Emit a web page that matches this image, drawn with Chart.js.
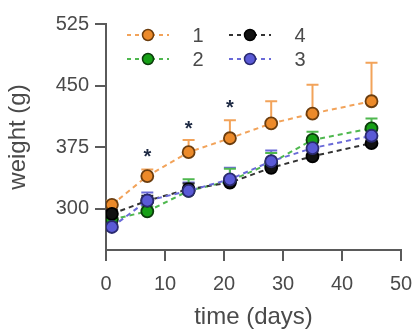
<!DOCTYPE html>
<html>
<head>
<meta charset="utf-8">
<script src="https://cdn.jsdelivr.net/npm/chart.js@4/dist/chart.umd.min.js"></script>
<style>
  html, body { margin: 0; padding: 0; background: #fff; }
</style>
</head>
<body>
<canvas id="chart" width="417" height="332"></canvas>
<script>
// Data
const days = [1, 7, 14, 21, 28, 35, 45];
const group1 = [305, 340, 369, 386, 404, 416, 431];
const group1Err = [5, 8, 15, 22, 27, 35, 47];
const group2 = [287, 297, 322, 334, 356, 384, 398];
const group2Err = [5, 6, 14, 15, 12, 10, 12];
const group4 = [294, 310, 324, 332, 350, 364, 380];
const group4Err = [5, 6, 7, 7, 7, 6, 6];
const group3 = [278, 310, 322, 336, 358, 374, 389];
const group3Err = [5, 10, 10, 14, 13, 12, 10];
const xTicks = [0, 10, 20, 30, 40, 50];
const yTicks = [300, 375, 450, 525];
const starDays = [7, 14, 21];
const starValues = [367, 401, 427];

const FONT = '"Liberation Sans", Arial, sans-serif';
const AXIS = '#5a5a5a';
const TEXT = '#4a4a4a';

function series(label, values, errs, line, fill, edge) {
  return {
    label,
    data: days.map((d, i) => ({ x: d, y: values[i] })),
    errs,
    borderColor: line,
    borderWidth: 2,
    borderDash: [5, 4],
    pointRadius: 6,
    pointBackgroundColor: fill,
    pointBorderColor: edge,
    pointBorderWidth: 1.8,
    fill: false,
    tension: 0
  };
}

const datasets = [
  series('3', group3, group3Err, '#6a6ad8', '#5a5ad6', '#2a2a70'),
  series('4', group4, group4Err, '#333333', '#111111', '#000000'),
  series('2', group2, group2Err, '#4fb84f', '#17a017', '#0c3d0c'),
  series('1', group1, group1Err, '#f2a35a', '#ec8a2a', '#6b3d0e')
];

// error bars (upward only, with caps), drawn behind the markers
const errorBars = {
  id: 'errorBars',
  beforeDatasetsDraw(chart) {
    const { ctx, scales: { x, y } } = chart;
    ctx.save();
    chart.data.datasets.forEach(ds => {
      ctx.strokeStyle = ds.borderColor;
      ctx.lineWidth = 2;
      ds.data.forEach((p, i) => {
        const px = x.getPixelForValue(p.x);
        const py = y.getPixelForValue(p.y);
        const top = y.getPixelForValue(p.y + ds.errs[i]);
        ctx.beginPath();
        ctx.moveTo(px, py);
        ctx.lineTo(px, top);
        ctx.moveTo(px - 6, top);
        ctx.lineTo(px + 6, top);
        ctx.stroke();
      });
    });
    ctx.restore();
  }
};

// significance stars
const stars = {
  id: 'stars',
  afterDatasetsDraw(chart) {
    const { ctx, scales: { x, y } } = chart;
    ctx.save();
    ctx.fillStyle = '#1e2a44';
    ctx.font = 'bold 20px ' + FONT;
    ctx.textAlign = 'center';
    ctx.textBaseline = 'middle';
    starDays.forEach((d, i) => {
      ctx.fillText('*', x.getPixelForValue(d), y.getPixelForValue(starValues[i]) + 4);
    });
    ctx.restore();
  }
};

// 2x2 legend: 1 / 2 in the first column, 4 / 3 in the second
const legendGrid = {
  id: 'legendGrid',
  afterDraw(chart) {
    const { ctx, chartArea } = chart;
    const byLabel = {};
    chart.data.datasets.forEach(ds => { byLabel[ds.label] = ds; });
    const cells = [['1', 0, 0], ['2', 0, 1], ['4', 1, 0], ['3', 1, 1]];
    ctx.save();
    cells.forEach(([lab, col, row]) => {
      const ds = byLabel[lab];
      const cx = chartArea.left + 42 + col * 102;
      const cy = chartArea.top + 11 + row * 24;
      ctx.strokeStyle = ds.borderColor;
      ctx.lineWidth = 2;
      ctx.setLineDash([4, 4]);
      ctx.beginPath();
      ctx.moveTo(cx - 21, cy);
      ctx.lineTo(cx + 21, cy);
      ctx.stroke();
      ctx.setLineDash([]);
      ctx.beginPath();
      ctx.arc(cx, cy, 5.5, 0, Math.PI * 2);
      ctx.fillStyle = ds.pointBackgroundColor;
      ctx.fill();
      ctx.strokeStyle = ds.pointBorderColor;
      ctx.lineWidth = 1.5;
      ctx.stroke();
      ctx.fillStyle = TEXT;
      ctx.font = '20px ' + FONT;
      ctx.textAlign = 'center';
      ctx.textBaseline = 'middle';
      ctx.fillText(lab, cx + 50, cy + 1);
    });
    ctx.restore();
  }
};

new Chart(document.getElementById('chart'), {
  type: 'line',
  data: { datasets },
  plugins: [errorBars, stars, legendGrid],
  options: {
    responsive: false,
    animation: false,
    devicePixelRatio: 1,
    layout: { padding: { left: 0, top: 24, right: 16, bottom: 0 } },
    plugins: { legend: { display: false }, tooltip: { enabled: false } },
    scales: {
      x: {
        type: 'linear',
        min: 0, max: 50,
        afterBuildTicks: s => { s.ticks = xTicks.map(v => ({ value: v })); },
        afterFit: s => { s.height = 82; s.paddingRight = 10; s.paddingLeft = 0; },
        grid: { drawOnChartArea: false, drawTicks: true, tickLength: 11, color: AXIS, lineWidth: 2 },
        border: { display: true, color: AXIS, width: 2 },
        ticks: { color: TEXT, font: { family: FONT, size: 20 }, padding: 11, maxRotation: 0 },
        title: { display: true, text: 'time (days)', color: TEXT, font: { family: FONT, size: 24 }, padding: { top: 0, bottom: 0 } }
      },
      y: {
        min: 250, max: 525,
        afterBuildTicks: s => { s.ticks = yTicks.map(v => ({ value: v })); },
        afterFit: s => { s.width = 106; },
        grid: { drawOnChartArea: false, drawTicks: true, tickLength: 11, color: AXIS, lineWidth: 2 },
        border: { display: true, color: AXIS, width: 2 },
        ticks: { color: TEXT, font: { family: FONT, size: 20 }, padding: 6 },
        title: { display: true, text: 'weight (g)', color: TEXT, font: { family: FONT, size: 24 }, padding: { top: 4, bottom: 0 } }
      }
    }
  }
});
</script>
</body>
</html>
